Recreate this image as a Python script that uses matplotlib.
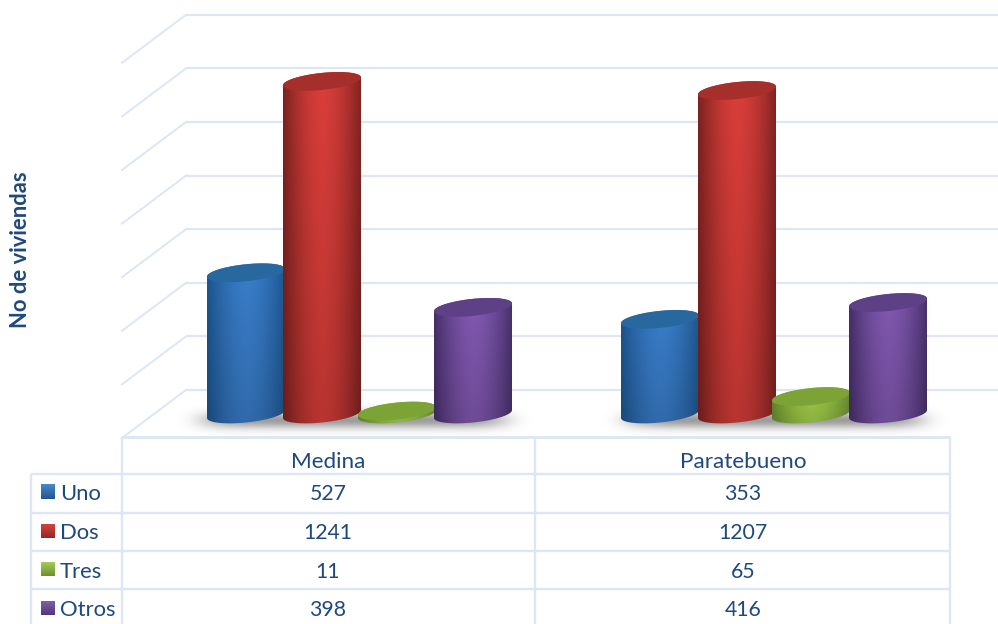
import numpy as np
import matplotlib
matplotlib.use("Agg")
import matplotlib.pyplot as plt
from matplotlib.patches import Polygon
from matplotlib.colors import to_rgb

categories = ["Medina", "Paratebueno"]
series_names = ["Uno", "Dos", "Tres", "Otros"]
uno = [527, 353]
dos = [1241, 1207]
tres = [11, 65]
otros = [398, 416]
series_values = [uno, dos, tres, otros]
grid_values = [0, 200, 400, 600, 800, 1000, 1200, 1400]

W, H = 998, 624
PX = 0.268           # pixels per unit of value
BASE = 414           # pixel row of value 0 at the bar bases
BACK = 390           # pixel row of value 0 on the back wall
FLOOR = 437
TXT = "#1F497D"
GRID = "#DDE6F3"
FONT = "Lato"

centers = [[246, 322, 397, 473], [660, 737, 811, 888]]
half_w = 39
ell_b = 8.5
shear = -0.10

styles = [
    dict(c="#3A7ECB", e="#1D5690", t="#28689F", s=("#4A86CC", "#22568F")),
    dict(c="#DA3E3A", e="#7E2321", t="#A62E2B", s=("#D5423E", "#962725")),
    dict(c="#A2CE4A", e="#6B8E2F", t="#7BA336", s=("#A5CB55", "#6F9030")),
    dict(c="#8259B2", e="#48306C", t="#5E4086", s=("#7F5FA8", "#53377C")),
]

fig = plt.figure(figsize=(W / 100, H / 100), dpi=100)
ax = fig.add_axes([0, 0, 1, 1])
ax.axis("off")

def v(p):
    """pixel row to value"""
    return (BASE - p) / PX

# back wall and side wall grid
for g in grid_values:
    yb = BACK - g * PX
    ax.plot([186, 998], [v(yb), v(yb)], color=GRID, lw=1.6, zorder=1, solid_capstyle="butt")
    ax.plot([122, 186], [v(yb + 48), v(yb)], color=GRID, lw=1.4, zorder=1)

# soft ground shadows
def shadow(x0, x1):
    xs = np.linspace(x0, x1, 500)
    ys = np.linspace(400, 440, 80)
    X, Y = np.meshgrid(xs, ys)
    cx = (x0 + x1) / 2
    half = (x1 - x0) / 2
    d = np.abs((X - cx) / half) ** 10 * 6 + ((Y - 420) / 8.5) ** 2
    img = np.zeros(X.shape + (4,))
    img[..., :3] = 0.38
    img[..., 3] = 0.62 * np.exp(-d)
    ax.imshow(img, extent=[x0, x1, v(440), v(400)], aspect="auto", zorder=2, interpolation="bilinear")

shadow(172, 536)
shadow(598, 952)

t = np.linspace(0, 2 * np.pi, 121)

def ellipse(cx, cyp, th):
    px = cx + half_w * np.cos(th)
    py = cyp + ell_b * np.sin(th) + shear * half_w * np.cos(th)
    return px, py

def cylinder(cx, value, st, z):
    top_p = BASE - value * PX
    bx, by = ellipse(cx, BASE, np.linspace(0, np.pi, 60))
    tx, ty = ellipse(cx, top_p, np.linspace(np.pi, 2 * np.pi, 60))
    pts = np.c_[np.r_[bx, tx], v(np.r_[by, ty])]
    clip = Polygon(pts, closed=True, transform=ax.transData, fc="none", ec="none")
    ax.add_patch(clip)
    u = np.linspace(-1, 1, 160)
    prof = np.clip(1 - np.abs(u - 0.02) ** 1.7, 0, 1)[None, :, None]
    fade = np.linspace(1.0, 0.84, 60)[:, None, None]
    c = np.array(to_rgb(st["c"]))[None, None, :]
    e = np.array(to_rgb(st["e"]))[None, None, :]
    img = (e + (c - e) * prof) * fade
    top_v = v(top_p - ell_b - 6)
    bot_v = v(BASE + ell_b + 6)
    im = ax.imshow(np.clip(img, 0, 1), extent=[cx - half_w, cx + half_w, bot_v, top_v],
                   aspect="auto", zorder=z, interpolation="bilinear")
    im.set_clip_path(clip)
    tx3, ty3 = ellipse(cx, top_p, t)
    ax.add_patch(Polygon(np.c_[tx3, v(ty3)], closed=True, fc=st["t"], ec="none", zorder=z + 0.1))

for k, vals in enumerate(series_values):
    for i, val in enumerate(vals):
        cylinder(centers[i][k], val, styles[k], 3 + k)

# data table
rows_y = [474, 513, 551, 589]
lw = 1.7
ax.plot([122, 950], [v(FLOOR)] * 2, color=GRID, lw=2.0, zorder=1, solid_capstyle="butt")
for x, y0 in [(122, FLOOR), (535, FLOOR), (950, FLOOR), (31, rows_y[0])]:
    ax.plot([x, x], [v(y0), v(624)], color=GRID, lw=lw, zorder=1, solid_capstyle="butt")
for y in rows_y:
    ax.plot([31, 950], [v(y)] * 2, color=GRID, lw=lw, zorder=1, solid_capstyle="butt")

col_x = [328, 743]
text_y = [610 - 38.5 * (3 - j) for j in range(4)]
fs_cat, fs_name, fs_num = 16.2, 15.8, 15.3
for x, name in zip(col_x, categories):
    ax.text(x, v(462), name, ha="center", va="center", fontsize=fs_cat, color=TXT, family=FONT)
for j, (name, vals) in enumerate(zip(series_names, series_values)):
    y = text_y[j]
    top, bottom = styles[j]["s"]
    grad = np.linspace(0, 1, 30)[:, None, None]
    swatch = np.array(to_rgb(top))[None, None, :] * (1 - grad) + np.array(to_rgb(bottom))[None, None, :] * grad
    ax.imshow(swatch, extent=[41, 55, v(y + 5), v(y - 9)], aspect="auto", zorder=3)
    ax.text(60, v(y), name, ha="left", va="center", fontsize=fs_name, color=TXT, family=FONT)
    for x, val in zip(col_x, vals):
        ax.text(x, v(y), str(val), ha="center", va="center", fontsize=fs_num, color=TXT, family=FONT)

ax.text(21, v(250), "No de viviendas", rotation=90, ha="center", va="center",
        fontsize=15.8, fontweight="bold", color=TXT, family=FONT)

ax.set_xlim(0, W)
ax.set_ylim(v(H), v(0))
fig.savefig("out.png", dpi=100)
